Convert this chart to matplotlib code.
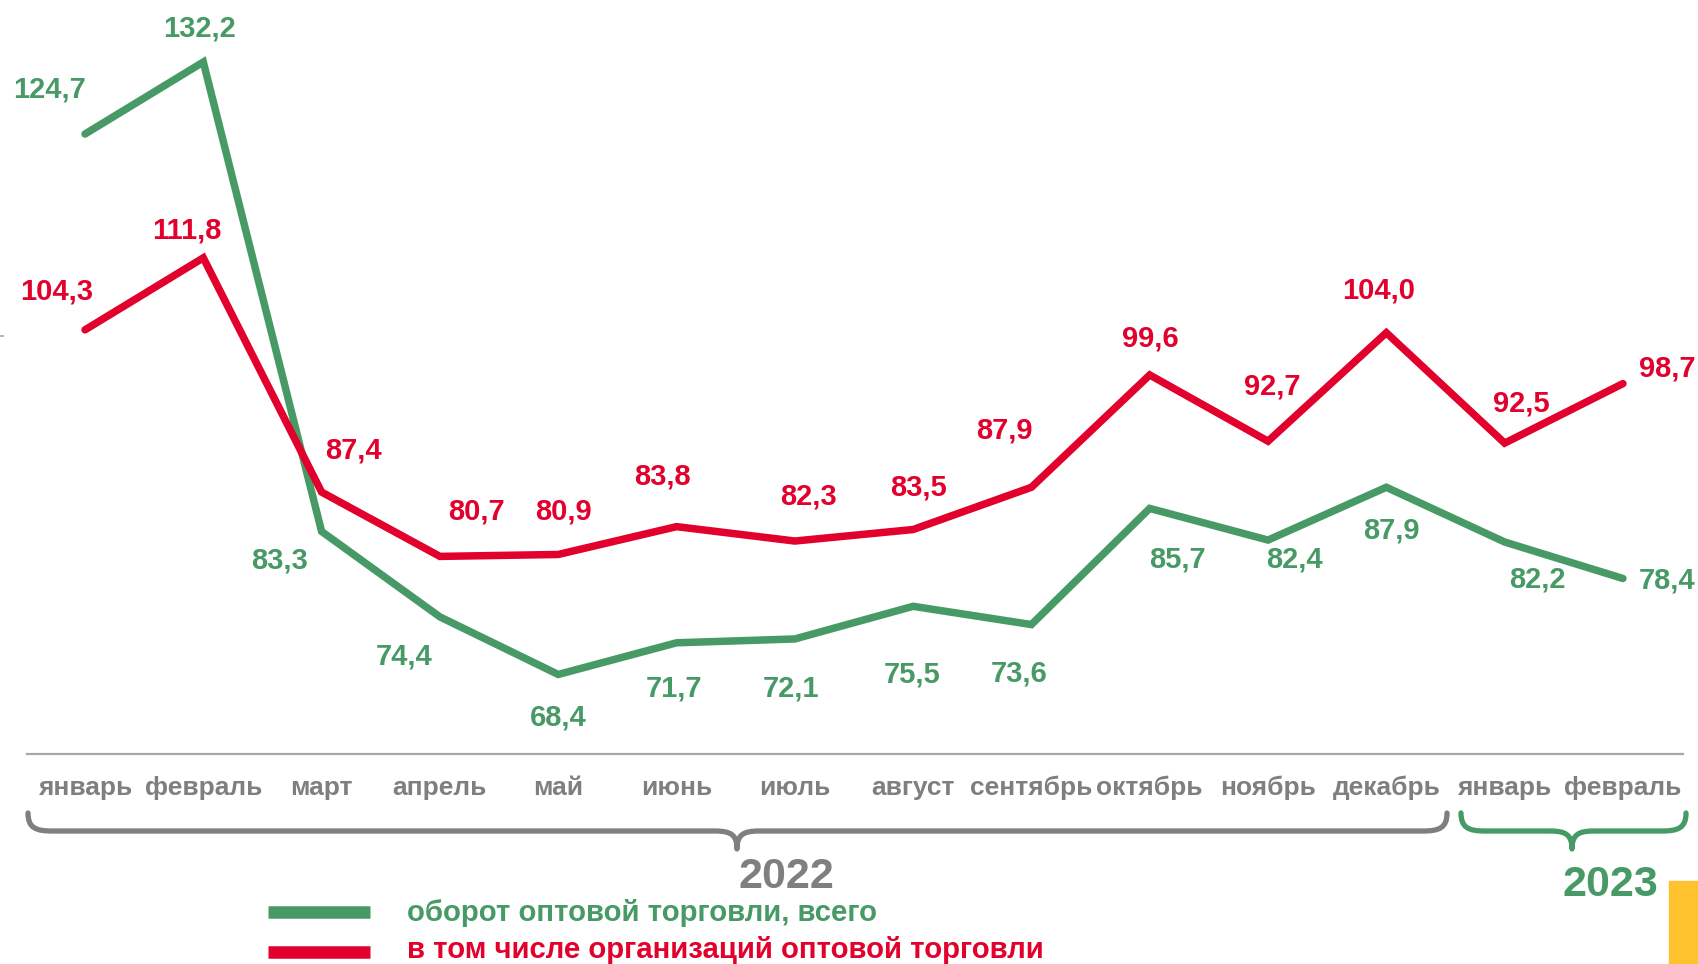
import matplotlib
matplotlib.use('Agg')
import matplotlib.pyplot as plt
import matplotlib.transforms as mtransforms
from matplotlib.path import Path
import matplotlib.patches as mpatches

plt.rcParams['font.family'] = ['Liberation Sans', 'DejaVu Sans']

# data
months = ['январь', 'февраль', 'март', 'апрель', 'май', 'июнь', 'июль',
          'август', 'сентябрь', 'октябрь', 'ноябрь', 'декабрь',
          'январь', 'февраль']
total = [124.7, 132.2, 83.3, 74.4, 68.4, 71.7, 72.1, 75.5, 73.6, 85.7,
         82.4, 87.9, 82.2, 78.4]
wholesale_orgs = [104.3, 111.8, 87.4, 80.7, 80.9, 83.8, 82.3, 83.5, 87.9,
                  99.6, 92.7, 104.0, 92.5, 98.7]
series_names = ['оборот оптовой торговли, всего',
                'в том числе организаций оптовой торговли']
years = ['2022', '2023']

GREEN = '#479a66'
RED = '#e2002c'
GRAY = '#7f7f7f'
YELLOW = '#fec22f'

# label offsets in pixels (dx, dy), y up
green_off = [(-36, 45), (-4, 34), (-42, -29), (-36, -40), (0, -43), (-3, -46),
             (-4, -50), (-1, -68), (-12, -49), (28, -51), (26, -19), (5, -43),
             (33, -38), (44, -2)]
red_off = [(-28, 38), (-16, 27), (32, 42), (37, 45), (5, 43), (-14, 50),
           (14, 45), (5, 42), (-27, 57), (1, 36), (4, 55), (-8, 42),
           (17, 40), (44, 15)]

W, H = 1699, 964
fig = plt.figure(figsize=(W / 100, H / 100), dpi=100)
ax = fig.add_axes([0, 0, 1, 1])
ax.set_xlim(-0.7185, 13.643)
ax.set_ylim(38.24, 138.66)
ax.axis('off')

# pixel overlay for decorations
ov = fig.add_axes([0, 0, 1, 1], facecolor='none')
ov.set_xlim(0, W)
ov.set_ylim(H, 0)
ov.axis('off')

x = list(range(len(months)))
ax.plot(x, total, color=GREEN, lw=5.4, solid_joinstyle='miter', solid_capstyle='round')
ax.plot(x, wholesale_orgs, color=RED, lw=5.4, solid_joinstyle='miter', solid_capstyle='round')

fmt = lambda v: f'{v:.1f}'.replace('.', ',')
for i, v in enumerate(total):
    ax.annotate(fmt(v), (i, v), xytext=green_off[i], textcoords='offset pixels',
                ha='center', va='center', color=GREEN, fontsize=21, fontweight='bold')
for i, v in enumerate(wholesale_orgs):
    ax.annotate(fmt(v), (i, v), xytext=red_off[i], textcoords='offset pixels',
                ha='center', va='center', color=RED, fontsize=21, fontweight='bold')

# axis line and month labels
ov.plot([27, 1683], [754, 754], color='#a6a6a6', lw=1.6)
ov.plot([0, 3], [336, 336], color='#a6a6a6', lw=1.2)
blend = mtransforms.blended_transform_factory(ax.transData, ov.transData)
for i, m in enumerate(months):
    ax.text(i, 788, m, transform=blend, ha='center', va='center',
            color=GRAY, fontsize=19, fontweight='bold')


def brace(x0, x1, xm, color):
    yt, yb, ytip = 813, 831, 849
    r = 24
    verts = [(x0, yt), (x0, yb - 3), (x0 + 8, yb), (x0 + r, yb),
             (xm - 22, yb),
             (xm - 6, yb), (xm, yb + 4), (xm, ytip),
             (xm, yb + 4), (xm + 6, yb), (xm + 22, yb),
             (x1 - r, yb),
             (x1 - 8, yb), (x1, yb - 3), (x1, yt)]
    codes = [Path.MOVETO, Path.CURVE4, Path.CURVE4, Path.CURVE4,
             Path.LINETO,
             Path.CURVE4, Path.CURVE4, Path.CURVE4,
             Path.CURVE4, Path.CURVE4, Path.CURVE4,
             Path.LINETO,
             Path.CURVE4, Path.CURVE4, Path.CURVE4]
    ov.add_patch(mpatches.PathPatch(Path(verts, codes), fill=False, ec=color,
                                    lw=3.8, capstyle='round', joinstyle='round'))


brace(28, 1447, 737, GRAY)
brace(1461, 1686, 1572, GREEN)
ov.text(786, 877, years[0], ha='center', va='center', color=GRAY,
        fontsize=31, fontweight='bold')
ov.text(1610, 885, years[1], ha='center', va='center', color=GREEN,
        fontsize=31, fontweight='bold')

# legend
ov.plot([268, 370], [912, 912], color=GREEN, lw=9, solid_capstyle='butt')
ov.plot([268, 370], [952, 952], color=RED, lw=9, solid_capstyle='butt')
ov.text(407, 913, series_names[0], ha='left', va='center', color=GREEN,
        fontsize=21.2, fontweight='bold')
ov.text(407, 950, series_names[1], ha='left', va='center', color=RED,
        fontsize=21.2, fontweight='bold')

ov.add_patch(mpatches.Rectangle((1669, 881), 30, 83, color=YELLOW))

fig.savefig('out.png', dpi=100)
